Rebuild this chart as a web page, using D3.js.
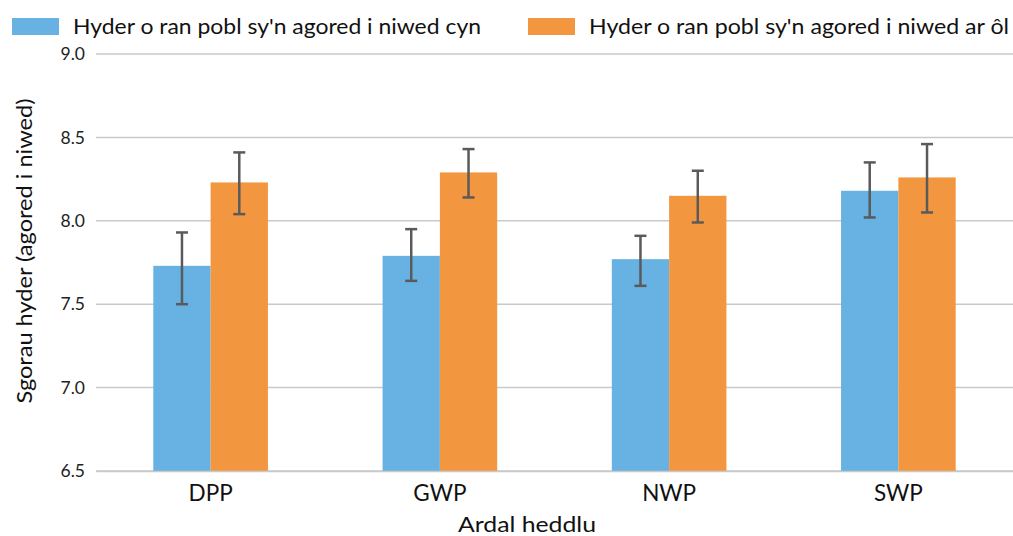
<!DOCTYPE html>
<html>
<head>
<meta charset="utf-8">
<script src="https://cdn.jsdelivr.net/npm/d3@7"></script>
<style>
  body { margin: 0; background: #fff; }
  svg { font-family: "Lato", "Open Sans", sans-serif; }
</style>
</head>
<body>
<svg width="1013" height="536"></svg>
<script>
const categories = ["DPP", "GWP", "NWP", "SWP"];
const seriesNames = ["Hyder o ran pobl sy'n agored i niwed cyn", "Hyder o ran pobl sy'n agored i niwed ar ôl"];
const beforeValues = [7.73, 7.79, 7.77, 8.18];
const beforeLow = [7.50, 7.64, 7.61, 8.02];
const beforeHigh = [7.93, 7.95, 7.91, 8.35];
const afterValues = [8.23, 8.29, 8.15, 8.26];
const afterLow = [8.04, 8.14, 7.99, 8.05];
const afterHigh = [8.41, 8.43, 8.30, 8.46];
const yTicks = [6.5, 7.0, 7.5, 8.0, 8.5, 9.0];
const colors = ["#67b2e3", "#f39640"];

const margin = { top: 54, right: 0, bottom: 65, left: 96 };
const width = 1013 - margin.left - margin.right;
const height = 536 - margin.top - margin.bottom;

const svg = d3.select("svg");
const g = svg.append("g").attr("transform", "translate(" + margin.left + "," + margin.top + ")");

const x0 = d3.scaleBand().domain(categories).range([0, width]).paddingInner(0.5).paddingOuter(0.25);
const x1 = d3.scaleBand().domain([0, 1]).range([0, x0.bandwidth()]);
const y = d3.scaleLinear().domain([6.5, 9.0]).range([height, 0]);

// gridlines
g.append("g")
  .selectAll("line")
  .data(yTicks)
  .join("line")
  .attr("x1", 0).attr("x2", width)
  .attr("y1", d => y(d)).attr("y2", d => y(d))
  .attr("stroke", "#c9c9c9").attr("stroke-width", 1.5);

// y tick labels
g.append("g")
  .selectAll("text")
  .data(yTicks)
  .join("text")
  .attr("x", -11).attr("y", d => y(d))
  .attr("dy", "0.35em")
  .attr("text-anchor", "end")
  .attr("font-size", 17.5)
  .attr("fill", "#222")
  .text(d => d.toFixed(1));

const rows = categories.map((c, i) => [
  { cat: c, s: 0, v: beforeValues[i], lo: beforeLow[i], hi: beforeHigh[i] },
  { cat: c, s: 1, v: afterValues[i], lo: afterLow[i], hi: afterHigh[i] }
]).flat();

// bars
g.append("g")
  .selectAll("rect")
  .data(rows)
  .join("rect")
  .attr("x", d => x0(d.cat) + x1(d.s))
  .attr("width", x1.bandwidth())
  .attr("y", d => y(d.v))
  .attr("height", d => y(6.5) - y(d.v))
  .attr("fill", d => colors[d.s]);

// error bars
const eb = g.append("g").attr("stroke", "#5a5a5a").attr("stroke-width", 2.5);
rows.forEach(d => {
  const cx = x0(d.cat) + x1(d.s) + x1.bandwidth() / 2;
  eb.append("line").attr("x1", cx).attr("x2", cx).attr("y1", y(d.hi)).attr("y2", y(d.lo));
  eb.append("line").attr("x1", cx - 6).attr("x2", cx + 6).attr("y1", y(d.hi)).attr("y2", y(d.hi));
  eb.append("line").attr("x1", cx - 6).attr("x2", cx + 6).attr("y1", y(d.lo)).attr("y2", y(d.lo));
});

// x axis
const xAxis = g.append("g")
  .attr("transform", "translate(0," + height + ")")
  .call(d3.axisBottom(x0).tickSize(0).tickPadding(14));
xAxis.select(".domain").attr("stroke", "#c9c9c9").attr("stroke-width", 1.5);
xAxis.selectAll("text").attr("font-size", 22.5).attr("fill", "#111").attr("font-family", "Lato");

// axis titles
svg.append("text")
  .attr("x", 527).attr("y", 532)
  .attr("text-anchor", "middle")
  .attr("font-size", 22).attr("fill", "#111")
  .attr("textLength", 138).attr("lengthAdjust", "spacingAndGlyphs")
  .text("Ardal heddlu");

svg.append("text")
  .attr("transform", "translate(32,251) rotate(-90)")
  .attr("text-anchor", "middle")
  .attr("font-size", 21).attr("fill", "#111")
  .attr("textLength", 305).attr("lengthAdjust", "spacingAndGlyphs")
  .text("Sgorau hyder (agored i niwed)");

// legend
const legendX = [12, 528];
const legendLen = [408, 420];
const legend = svg.append("g");
seriesNames.forEach((name, i) => {
  legend.append("rect")
    .attr("x", legendX[i]).attr("y", 18)
    .attr("width", 47).attr("height", 17)
    .attr("fill", colors[i]);
  legend.append("text")
    .attr("x", legendX[i] + 61).attr("y", 34)
    .attr("font-size", 22).attr("fill", "#111")
    .attr("textLength", legendLen[i]).attr("lengthAdjust", "spacingAndGlyphs")
    .text(name);
});
</script>
</body>
</html>
